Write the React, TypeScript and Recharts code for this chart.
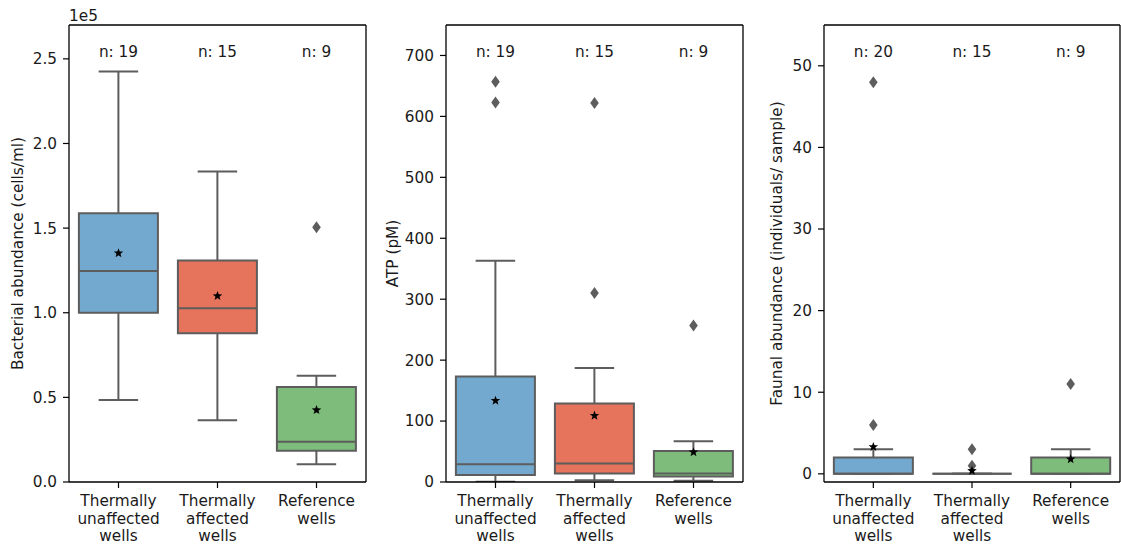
import React from 'react';
import { ComposedChart, Bar, Scatter, XAxis, YAxis, Label } from 'recharts';

const categories = ['Thermally unaffected wells', 'Thermally affected wells', 'Reference wells'];
const tickLines: Record<string, string[]> = {
  'Thermally unaffected wells': ['Thermally', 'unaffected', 'wells'],
  'Thermally affected wells': ['Thermally', 'affected', 'wells'],
  'Reference wells': ['Reference', 'wells'],
};
const boxColors = ['#74a9cf', '#e6735c', '#7dbc7a'];

// box stats per group: [lower whisker, q1, median, q3, upper whisker]
const bacteriaBox = [
  [0.485, 1.0, 1.247, 1.588, 2.425],
  [0.365, 0.879, 1.026, 1.308, 1.834],
  [0.105, 0.185, 0.238, 0.561, 0.628],
];
const bacteriaMean = [1.352, 1.099, 0.425];
const bacteriaOutliers = [[], [], [1.505]];
const bacteriaN = [19, 15, 9];
const bacteriaTicks = [0, 0.5, 1.0, 1.5, 2.0, 2.5];

const atpBox = [
  [0.5, 11.5, 29, 173, 363],
  [3, 14, 30.5, 129, 187],
  [2, 9, 14, 51, 67],
];
const atpMean = [133.5, 109, 49];
const atpOutliers = [[623, 657], [310, 622], [257]];
const atpN = [19, 15, 9];
const atpTicks = [0, 100, 200, 300, 400, 500, 600, 700];

const faunaBox = [
  [0, 0, 0, 2, 3],
  [0, 0, 0, 0, 0],
  [0, 0, 0, 2, 3],
];
const faunaMean = [3.3, 0.37, 1.8];
const faunaOutliers = [[6, 48], [1, 3], [11]];
const faunaN = [20, 15, 9];
const faunaTicks = [0, 10, 20, 30, 40, 50];

const GREY = '#5d5d5d';
const FONT = 'DejaVu Sans, sans-serif';
const TXT = '#1a1a1a';

const makeBoxShape = (dom: number[]) => (props: any) => {
  const { x, y, width, height, payload } = props;
  const [lo, q1, med, q3, hi] = payload.stats;
  const py = (v: number) => y + ((dom[1] - v) / (dom[1] - dom[0])) * height;
  const cx = x + width / 2;
  const cap = width / 4;
  return (
    <g>
      <line x1={cx} x2={cx} y1={py(hi)} y2={py(q3)} stroke={GREY} strokeWidth={2} />
      <line x1={cx} x2={cx} y1={py(q1)} y2={py(lo)} stroke={GREY} strokeWidth={2} />
      <line x1={cx - cap} x2={cx + cap} y1={py(hi)} y2={py(hi)} stroke={GREY} strokeWidth={2} />
      <line x1={cx - cap} x2={cx + cap} y1={py(lo)} y2={py(lo)} stroke={GREY} strokeWidth={2} />
      <path
        d={`M${x},${py(q3)} H${x + width} V${py(q1)} H${x} Z`}
        fill={payload.color}
        stroke={GREY}
        strokeWidth={2}
      />
      <line x1={x} x2={x + width} y1={py(med)} y2={py(med)} stroke={GREY} strokeWidth={2} />
    </g>
  );
};

const Diamond = (props: any) => {
  const { cx, cy } = props;
  return <polygon points={`${cx},${cy - 6} ${cx + 4.3},${cy} ${cx},${cy + 6} ${cx - 4.3},${cy}`} fill={GREY} />;
};

const Star = (props: any) => {
  const { cx, cy } = props;
  const pts: string[] = [];
  for (let i = 0; i < 10; i++) {
    const r = i % 2 === 0 ? 5 : 2.1;
    const a = -Math.PI / 2 + (i * Math.PI) / 5;
    pts.push(`${cx + r * Math.cos(a)},${cy + r * Math.sin(a)}`);
  }
  return <polygon points={pts.join(' ')} fill="#000" />;
};

const NLabel = (props: any) => (
  <text x={props.cx} y={props.cy} textAnchor="middle" dominantBaseline="central" fontFamily={FONT} fontSize={15.3} fill={TXT}>
    {`n: ${props.payload.n}`}
  </text>
);

const CatTick = (props: any) => {
  const { x, y, payload } = props;
  const lines = tickLines[payload.value] || [payload.value];
  return (
    <g>
      {lines.map((l, i) => (
        <text key={i} x={x} y={y + 11 + i * 17.6} textAnchor="middle" dominantBaseline="central" fontFamily={FONT} fontSize={15.3} fill={TXT}>
          {l}
        </text>
      ))}
    </g>
  );
};

interface PanelProps {
  left: number;
  width: number;
  yWidth: number;
  right: number;
  domain: number[];
  ticks: number[];
  fmt?: (v: number) => string;
  label: string;
  labelX: number;
  box: number[][];
  mean: number[];
  outliers: number[][];
  n: number[];
  note?: string;
}

function Panel(p: PanelProps) {
  const data = categories.map((cat, i) => ({ cat, stats: p.box[i], color: boxColors[i] }));
  const outlierPts = categories.flatMap((cat, i) => p.outliers[i].map((v) => ({ cat, v })));
  const meanPts = categories.map((cat, i) => ({ cat, v: p.mean[i] }));
  const nY = p.domain[0] + 0.941 * (p.domain[1] - p.domain[0]);
  const nPts = categories.map((cat, i) => ({ cat, v: nY, n: p.n[i] }));
  const axisLine = { stroke: '#000', strokeWidth: 1.3 };

  return (
    <div style={{ position: 'absolute', left: p.left, top: 0 }}>
      <ComposedChart
        width={p.width}
        height={544}
        data={data}
        margin={{ top: 24, right: p.right - 1, bottom: 0, left: 0 }}
        barCategoryGap="10%"
      >
        <XAxis
          dataKey="cat"
          allowDuplicatedCategory={false}
          height={62}
          tickSize={6}
          tickMargin={2}
          interval={0}
          axisLine={axisLine}
          tickLine={{ stroke: '#000', strokeWidth: 1.2 }}
          tick={<CatTick />}
        />
        <XAxis
          xAxisId="top"
          dataKey="cat"
          orientation="top"
          height={1}
          tick={false}
          tickLine={false}
          axisLine={axisLine}
        />
        <YAxis
          type="number"
          domain={p.domain}
          ticks={p.ticks}
          allowDataOverflow
          width={p.yWidth}
          tickSize={6}
          tickMargin={6}
          tickFormatter={p.fmt}
          axisLine={axisLine}
          tickLine={{ stroke: '#000', strokeWidth: 1.2 }}
          tick={{ fontFamily: FONT, fontSize: 15.3, fill: TXT }}
        >
          <Label
            content={(lp: any) => {
              const vb = lp.viewBox;
              const cx = vb.x + p.labelX;
              const cy = vb.y + vb.height / 2;
              return (
                <text
                  transform={`translate(${cx},${cy}) rotate(-90)`}
                  textAnchor="middle"
                  dominantBaseline="central"
                  fontFamily={FONT}
                  fontSize={15.3}
                  fill={TXT}
                >
                  {p.label}
                </text>
              );
            }}
          />
        </YAxis>
        <YAxis
          yAxisId="right"
          orientation="right"
          type="number"
          domain={p.domain}
          width={1}
          tick={false}
          tickLine={false}
          axisLine={axisLine}
        />
        <Bar dataKey={() => p.domain} shape={makeBoxShape(p.domain)} isAnimationActive={false} />
        <Scatter data={outlierPts} dataKey="v" shape={<Diamond />} isAnimationActive={false} />
        <Scatter data={meanPts} dataKey="v" shape={<Star />} isAnimationActive={false} />
        <Scatter data={nPts} dataKey="v" shape={<NLabel />} isAnimationActive={false} />
      </ComposedChart>
      {p.note && (
        <div style={{ position: 'absolute', left: p.yWidth, top: 8, fontFamily: FONT, fontSize: 15.3, color: TXT, lineHeight: '17px' }}>
          {p.note}
        </div>
      )}
    </div>
  );
}

export default function App() {
  return (
    <div style={{ position: 'fixed', left: 0, top: 0, width: 1121, height: 544, background: '#fff' }}>
      <Panel
        left={0}
        width={370}
        yWidth={69}
        right={4}
        domain={[0, 2.7]}
        ticks={bacteriaTicks}
        fmt={(v) => v.toFixed(1)}
        label="Bacterial abundance (cells/ml)"
        labelX={18}
        box={bacteriaBox}
        mean={bacteriaMean}
        outliers={bacteriaOutliers}
        n={bacteriaN}
        note="1e5"
      />
      <Panel
        left={370}
        width={380}
        yWidth={76}
        right={7}
        domain={[0, 750]}
        ticks={atpTicks}
        label="ATP (pM)"
        labelX={23}
        box={atpBox}
        mean={atpMean}
        outliers={atpOutliers}
        n={atpN}
      />
      <Panel
        left={750}
        width={371}
        yWidth={74}
        right={1}
        domain={[-1, 55]}
        ticks={faunaTicks}
        label="Faunal abundance (individuals/ sample)"
        labelX={27}
        box={faunaBox}
        mean={faunaMean}
        outliers={faunaOutliers}
        n={faunaN}
      />
    </div>
  );
}
